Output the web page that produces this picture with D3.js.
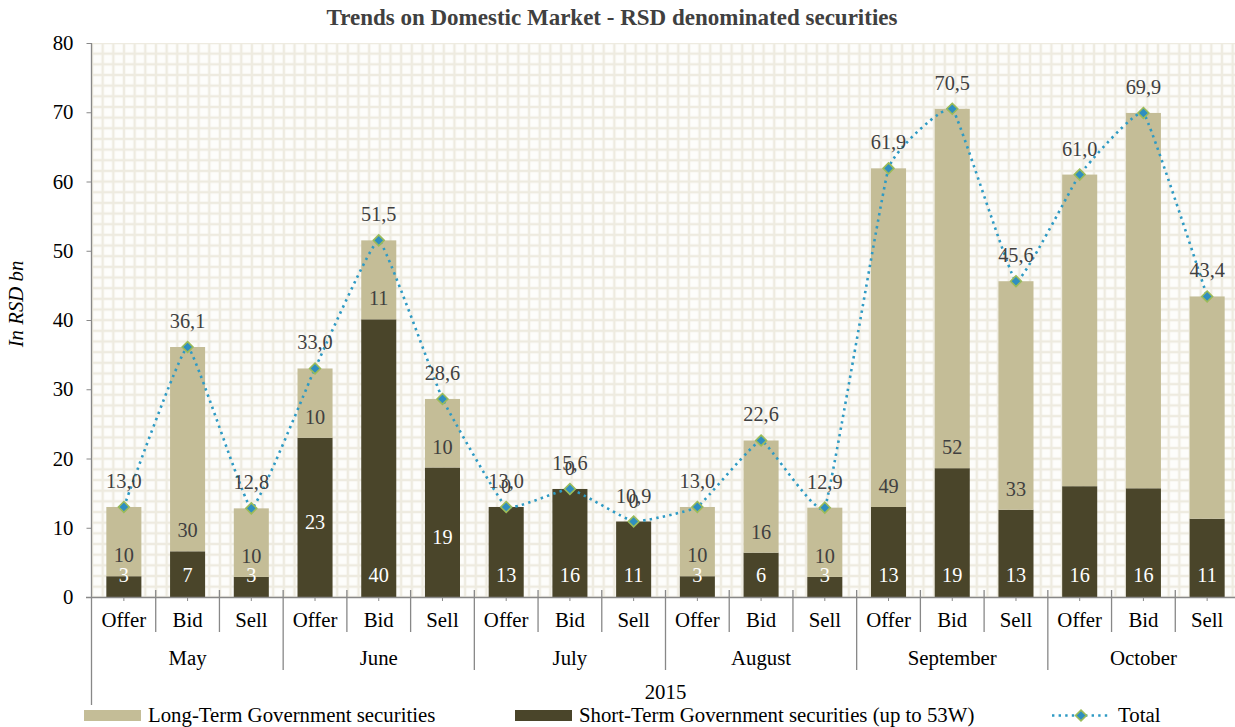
<!DOCTYPE html>
<html><head><meta charset="utf-8">
<script src="https://cdn.jsdelivr.net/npm/d3@7"></script>
<style>body{margin:0;background:#fff}svg{display:block}</style>
</head><body>
<script>
const months = ["May","June","July","August","September","October"];
const types = ["Offer","Bid","Sell"];
const shortTerm = [3.0,6.6,2.9, 23.0,40.1,18.7, 13.0,15.6,10.9, 3.0,6.4,2.9, 13.0,18.6,12.6, 16.0,15.7,11.3];
const longTerm  = [10.0,29.5,9.9, 10.0,11.4,9.9, 0,0,0, 10.0,16.2,10.0, 48.9,51.9,33.0, 45.0,54.2,32.1];
const totals    = [13.0,36.1,12.8, 33.0,51.5,28.6, 13.0,15.6,10.9, 13.0,22.6,12.9, 61.9,70.5,45.6, 61.0,69.9,43.4];
const yTicks = [0,10,20,30,40,50,60,70,80];
const yearLabel = "2015";
const title = "Trends on Domestic Market - RSD denominated securities";
const seriesNames = ["Long-Term Government securities","Short-Term Government securities (up to 53W)","Total"];

const W = 1235, H = 727;
const m = {left: 92, top: 43, right: 1239, bottom: 597};
const C_LONG = "#c4bd97", C_SHORT = "#4a452a", C_LINE = "#2e9ac4", C_MK = "#2f8fc0", C_MKS = "#9bbb59";
const FONT = "'Liberation Serif','Times New Roman',serif";
const FS = 20.8, FSL = 20.3;

const cats = [];
months.forEach(mo => types.forEach(t => cats.push(mo + "|" + t)));
const rows = cats.map((c,i) => ({key:c, month:c.split("|")[0], type:c.split("|")[1], s:shortTerm[i], l:longTerm[i], t:totals[i], i}));

const svg = d3.select("body").append("svg").attr("width", W).attr("height", H)
  .style("font-family", FONT);

const defs = svg.append("defs");
const gs = 10.66;
const pat = defs.append("pattern").attr("id","grid").attr("patternUnits","userSpaceOnUse")
  .attr("width", gs).attr("height", gs).attr("x", m.left).attr("y", m.top);
pat.append("rect").attr("width", gs).attr("height", gs).attr("fill", "#eeebe0");
pat.append("rect").attr("x", 1.2).attr("y", 1.2).attr("width", gs-2.4).attr("height", gs-2.4).attr("fill", "#fdfdfb");

const x = d3.scaleBand().domain(cats).range([m.left, m.right]).paddingInner(0.45).paddingOuter(0.225);
const step = x.step();
const y = d3.scaleLinear().domain([0, 80]).range([m.bottom, m.top]);

svg.append("rect").attr("x", m.left).attr("y", m.top).attr("width", m.right - m.left).attr("height", m.bottom - m.top)
  .attr("fill", "url(#grid)");

// title
svg.append("text").attr("x", 612).attr("y", 25).attr("text-anchor","middle")
  .attr("font-weight","bold").attr("font-size", 23).attr("fill","#404040").text(title);

// y axis
const yAxis = d3.axisLeft(y).tickValues(yTicks).tickSize(5).tickPadding(13).tickFormat(d3.format("d"));
const gy = svg.append("g").attr("transform", `translate(${m.left - 0.5},0)`).call(yAxis);
gy.select(".domain").remove();
gy.selectAll(".tick line").attr("stroke","#888");
gy.selectAll(".tick text").attr("font-family", FONT).attr("font-size", FS).attr("fill","#000");
svg.append("line").attr("x1", m.left - 0.5).attr("x2", m.left - 0.5).attr("y1", m.top).attr("y2", 705)
  .attr("stroke","#888").attr("stroke-width",1.3);

svg.append("text").attr("transform", `translate(23,304) rotate(-90)`).attr("text-anchor","middle")
  .attr("font-style","italic").attr("font-size", FS).attr("fill","#000").text("In RSD bn");

// bars
const bw = x.bandwidth();
svg.append("g").selectAll("rect").data(rows).join("rect")
  .attr("x", d => x(d.key)).attr("width", bw)
  .attr("y", d => y(d.s)).attr("height", d => y(0) - y(d.s)).attr("fill", C_SHORT);
svg.append("g").selectAll("rect").data(rows.filter(d => d.l > 0)).join("rect")
  .attr("x", d => x(d.key)).attr("width", bw)
  .attr("y", d => y(d.s + d.l)).attr("height", d => y(d.s) - y(d.s + d.l)).attr("fill", C_LONG);

// x axis
const xAxis = d3.axisBottom(x).tickSize(4).tickFormat(d => d.split("|")[1]).tickPadding(11);
const gx = svg.append("g").attr("transform", `translate(0,${m.bottom})`).call(xAxis);
gx.select(".domain").remove();
gx.selectAll(".tick line").attr("stroke","#888");
gx.selectAll(".tick text").attr("font-family", FONT).attr("font-size", FS).attr("fill","#000");
svg.append("line").attr("x1", 86).attr("x2", W).attr("y1", m.bottom + 0.5).attr("y2", m.bottom + 0.5)
  .attr("stroke","#888").attr("stroke-width",1.5);

// separators
const sepG = svg.append("g").attr("stroke","#888").attr("stroke-width",1.3);
rows.forEach((d, i) => {
  if (i === 0) return;
  const sx = x(d.key) - (step - bw) / 2;
  const isMonth = i % 3 === 0;
  sepG.append("line").attr("x1", sx).attr("x2", sx).attr("y1", m.bottom - 7).attr("y2", isMonth ? 670 : 632);
});
months.forEach((mo) => {
  const cx = (x(mo + "|Bid") + bw / 2);
  svg.append("text").attr("x", cx).attr("y", 665).attr("text-anchor","middle")
    .attr("font-size", FS).attr("fill","#000").text(mo);
});
svg.append("text").attr("x", (m.left + W) / 2 + 2).attr("y", 699).attr("text-anchor","middle")
  .attr("font-size", FS).attr("fill","#000").text(yearLabel);

// segment labels
const centeredShort = new Set([3, 5]);
const hiddenLong = new Set([15, 16, 17]);
const fmt0 = d3.format(".0f");
svg.append("g").selectAll("text").data(rows).join("text")
  .attr("x", d => x(d.key) + bw / 2)
  .attr("y", d => centeredShort.has(d.i) ? (y(0) + y(d.s)) / 2 + 5 : y(0) - 22)
  .attr("dy", "0.35em").attr("text-anchor","middle").attr("font-size", FSL).attr("fill","#fff")
  .text(d => fmt0(d.s));
svg.append("g").selectAll("text").data(rows.filter(d => !hiddenLong.has(d.i))).join("text")
  .attr("x", d => x(d.key) + bw / 2)
  .attr("y", d => y(d.s) - 21)
  .attr("dy", "0.35em").attr("text-anchor","middle").attr("font-size", FSL).attr("fill","#404040")
  .text(d => fmt0(d.l));

// total line
const line = d3.line().x(d => x(d.key) + bw / 2).y(d => y(d.t)).curve(d3.curveCardinal.tension(0.7));
svg.append("path").datum(rows).attr("d", line).attr("fill","none").attr("stroke", C_LINE)
  .attr("stroke-width", 2.6).attr("stroke-dasharray","2.4 4.2");
const diamond = d3.symbol().type(d3.symbolDiamond2).size(75);
svg.append("g").selectAll("path").data(rows).join("path")
  .attr("transform", d => `translate(${x(d.key) + bw / 2},${y(d.t)})`)
  .attr("d", diamond).attr("fill", C_MK).attr("stroke", C_MKS).attr("stroke-width", 1.6);
const locale = d3.formatLocale({decimal: ",", thousands: ".", grouping: [3], currency: ["", ""]});
const fmt1 = locale.format(".1f");
svg.append("g").selectAll("text").data(rows).join("text")
  .attr("x", d => x(d.key) + bw / 2).attr("y", d => y(d.t) - 19)
  .attr("text-anchor","middle").attr("font-size", FSL).attr("fill","#404040").text(d => fmt1(d.t));

// legend
const lg = svg.append("g");
lg.append("rect").attr("x", 84).attr("y", 710).attr("width", 57).attr("height", 11).attr("fill", C_LONG);
lg.append("text").attr("x", 148).attr("y", 722).attr("font-size", FS).attr("fill","#000").text(seriesNames[0]);
lg.append("rect").attr("x", 515).attr("y", 710).attr("width", 57).attr("height", 11).attr("fill", C_SHORT);
lg.append("text").attr("x", 579).attr("y", 722).attr("font-size", FS).attr("fill","#000").text(seriesNames[1]);
lg.append("line").attr("x1", 1052).attr("x2", 1108).attr("y1", 715.5).attr("y2", 715.5)
  .attr("stroke", C_LINE).attr("stroke-width", 2.6).attr("stroke-dasharray","2.4 4.2");
lg.append("path").attr("transform","translate(1081,715.5)").attr("d", diamond)
  .attr("fill", C_MK).attr("stroke", C_MKS).attr("stroke-width", 1.6);
lg.append("text").attr("x", 1118).attr("y", 722).attr("font-size", FS).attr("fill","#000").text(seriesNames[2]);
</script>
</body></html>
